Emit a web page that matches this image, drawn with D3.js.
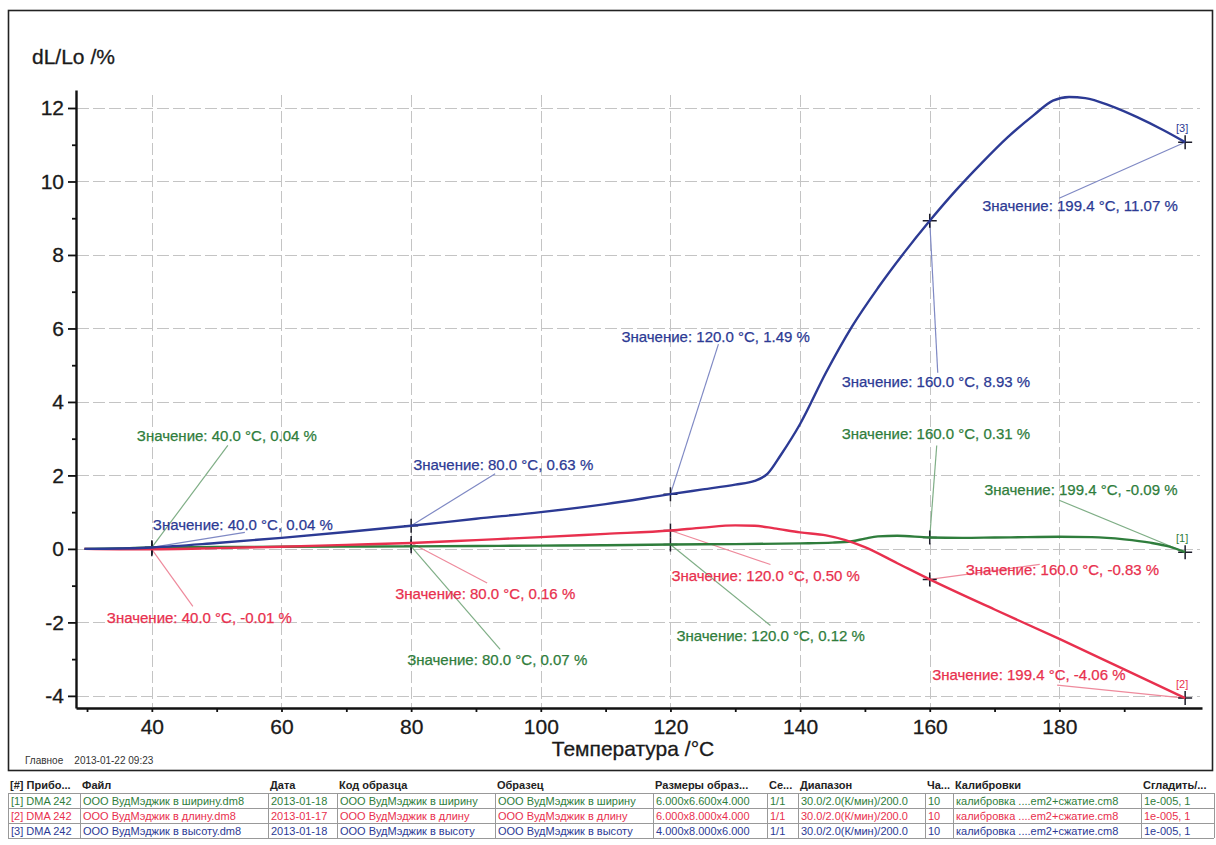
<!DOCTYPE html>
<html>
<head>
<meta charset="utf-8">
<script src="https://cdn.jsdelivr.net/npm/d3@7/dist/d3.min.js"></script>
<style>
  html, body { margin: 0; padding: 0; background: #fff; }
  svg { display: block; font-family: "Liberation Sans", Arial, sans-serif; }
</style>
</head>
<body>
<svg id="chart" width="1216" height="845"></svg>
<script>
// Dilatometer curves dL/Lo vs temperature (three sample orientations)
const seriesNames = ["[1]", "[2]", "[3]"];
const seriesColors = ["#2f7d3c", "#e8304e", "#2c3a94"];
const leaderColors = ["#7fae86", "#ee8a9c", "#7f89c4"];

const greenTemp = [29.6, 35, 40, 50, 60, 70, 80, 90, 100, 110, 120, 130, 140, 145, 148, 150, 152, 155, 160, 165, 170, 175, 180, 185, 190, 194, 197, 199.4];
const greenVal  = [0, 0.01, 0.04, 0.05, 0.06, 0.065, 0.07, 0.08, 0.09, 0.10, 0.12, 0.13, 0.15, 0.17, 0.21, 0.28, 0.34, 0.36, 0.31, 0.30, 0.31, 0.32, 0.33, 0.32, 0.26, 0.17, 0.06, -0.09];

const redTemp = [29.6, 35, 40, 50, 60, 70, 80, 90, 100, 110, 120, 125, 130, 133, 136, 140, 144, 147, 150, 155, 160, 170, 180, 190, 199.4];
const redVal  = [0, -0.01, -0.01, 0.02, 0.06, 0.11, 0.16, 0.24, 0.32, 0.41, 0.50, 0.58, 0.64, 0.63, 0.56, 0.45, 0.37, 0.24, 0.05, -0.39, -0.83, -1.65, -2.45, -3.28, -4.06];

const blueTemp = [29.6, 35, 40, 50, 60, 70, 80, 90, 100, 110, 120, 125, 130, 133, 135, 137, 140, 144, 148, 152, 156, 160, 164, 168, 172, 176, 179, 181.5, 184, 188, 192, 196, 199.4];
const blueVal  = [0, 0.01, 0.04, 0.16, 0.30, 0.46, 0.63, 0.82, 1.00, 1.22, 1.49, 1.62, 1.75, 1.85, 2.05, 2.55, 3.40, 4.80, 6.05, 7.10, 8.05, 8.93, 9.75, 10.50, 11.20, 11.80, 12.20, 12.30, 12.27, 12.05, 11.75, 11.40, 11.07];

// Value readouts: series index, temperature, value
const markSeries = [2, 0, 1, 2, 1, 0, 2, 1, 0, 2, 0, 1, 2, 0, 1];
const markTemp   = [40.0, 40.0, 40.0, 80.0, 80.0, 80.0, 120.0, 120.0, 120.0, 160.0, 160.0, 160.0, 199.4, 199.4, 199.4];
const markVal    = [0.04, 0.04, -0.01, 0.63, 0.16, 0.07, 1.49, 0.50, 0.12, 8.93, 0.31, -0.83, 11.07, -0.09, -4.06];
// Readout text placement (pixel offsets from the marker) and leader end offsets
const labelDx = [1, -15, -45, 2, -16, -4, -49, 1, 6, -88, -88, 36, -203, -201, -253];
const labelDy = [-23, -112, 68, -62, 50, 113, -158, 44, 91, 160, -105, -10, 63, -63, -24];
const leaderDx = [93, 76, 41, 84, 76, 89, 48, 100, 100, 8, 7, 110, -126, -126, -128];
const leaderDy = [-15, -102, 57, -52, 40, 103, -150, 34, 81, 152, -92, -15, 56, -52, -13];

const xTicks = [40, 60, 80, 100, 120, 140, 160, 180];
const xMinor = [30, 50, 70, 90, 110, 130, 150, 170, 190];
const yTicks = [-4, -2, 0, 2, 4, 6, 8, 10, 12];
const yMinor = [-3, -1, 1, 3, 5, 7, 9, 11];

const tableHeaders = ["[#] Прибо...", "Файл", "Дата", "Код образца", "Образец", "Размеры образ...", "Се...", "Диапазон", "Ча...", "Калибровки", "Сгладить/..."];
const tableRow1 = ["[1] DMA 242", "ООО ВудМэджик в ширину.dm8", "2013-01-18", "ООО ВудМэджик в ширину", "ООО ВудМэджик в ширину", "6.000x6.600x4.000", "1/1", "30.0/2.0(К/мин)/200.0", "10", "калибровка ....em2+сжатие.cm8", "1e-005, 1"];
const tableRow2 = ["[2] DMA 242", "ООО ВудМэджик в длину.dm8", "2013-01-17", "ООО ВудМэджик в длину", "ООО ВудМэджик в длину", "6.000x8.000x4.000", "1/1", "30.0/2.0(К/мин)/200.0", "10", "калибровка ....em2+сжатие.cm8", "1e-005, 1"];
const tableRow3 = ["[3] DMA 242", "ООО ВудМэджик в высоту.dm8", "2013-01-18", "ООО ВудМэджик в высоту", "ООО ВудМэджик в высоту", "4.000x8.000x6.000", "1/1", "30.0/2.0(К/мин)/200.0", "10", "калибровка ....em2+сжатие.cm8", "1e-005, 1"];

const svg = d3.select("#chart");

// outer frame
svg.append("rect").attr("x", 8.5).attr("y", 10.5).attr("width", 1204).attr("height", 760)
  .attr("fill", "none").attr("stroke", "#222").attr("stroke-width", 1.6);

const x = d3.scaleLinear().domain([28.3, 202]).range([76, 1202]);
const y = d3.scaleLinear().domain([-4.33, 12.49]).range([708, 90]);

// grid
const grid = svg.append("g").attr("stroke", "#c4c4c4").attr("stroke-width", 1).attr("stroke-dasharray", "12,4");
grid.selectAll(".h").data(yTicks).join("line")
  .attr("x1", 77).attr("x2", 1200).attr("y1", d => Math.round(y(d)) + 0.5).attr("y2", d => Math.round(y(d)) + 0.5);
grid.selectAll(".v").data(xTicks).join("line")
  .attr("y1", 95).attr("y2", 707).attr("x1", d => Math.round(x(d)) + 0.5).attr("x2", d => Math.round(x(d)) + 0.5);

// axes
const fmt = d => String(d);
const yAxis = svg.append("g").attr("transform", "translate(76,0)")
  .call(d3.axisLeft(y).tickValues(yTicks).tickSize(8).tickSizeOuter(0).tickPadding(4).tickFormat(fmt));
svg.append("g").attr("transform", "translate(76,0)")
  .call(d3.axisLeft(y).tickValues(yMinor).tickSize(4).tickSizeOuter(0).tickFormat(""))
  .select(".domain").remove();
const xAxis = svg.append("g").attr("transform", "translate(0,708)")
  .call(d3.axisBottom(x).tickValues(xTicks).tickSize(4).tickSizeOuter(0).tickPadding(7).tickFormat(fmt));
svg.append("g").attr("transform", "translate(0,708)")
  .call(d3.axisBottom(x).tickValues(xMinor).tickSize(4).tickSizeOuter(0).tickFormat(""))
  .select(".domain").remove();

svg.selectAll(".domain").attr("stroke", "#111").attr("stroke-width", 2.4);
svg.selectAll(".tick line").attr("stroke", "#111").attr("stroke-width", 1.8);
svg.selectAll(".tick text").attr("font-size", 21).attr("fill", "#1a1a1a")
  .attr("stroke", "#1a1a1a").attr("stroke-width", 0.3)
  .attr("font-family", "Liberation Sans, Arial, sans-serif");

svg.append("text").attr("x", 32).attr("y", 64).attr("font-size", 21).attr("fill", "#1a1a1a")
  .attr("stroke", "#1a1a1a").attr("stroke-width", 0.3).text("dL/Lo /%");
svg.append("text").attr("x", 633).attr("y", 756).attr("text-anchor", "middle").attr("font-size", 21).attr("fill", "#1a1a1a")
  .attr("stroke", "#1a1a1a").attr("stroke-width", 0.3).text("Температура /°C");
svg.append("text").attr("x", 25).attr("y", 764).attr("font-size", 10).attr("fill", "#333")
  .attr("xml:space", "preserve").text("Главное    2013-01-22 09:23");

// curves
const line = d3.line().x(d => x(d[0])).y(d => y(d[1])).curve(d3.curveMonotoneX);
const seriesData = [
  d3.zip(greenTemp, greenVal),
  d3.zip(redTemp, redVal),
  d3.zip(blueTemp, blueVal)
];

// leaders below curves
const ann = svg.append("g");
markSeries.forEach((s, i) => {
  const px = x(markTemp[i]), py = y(markVal[i]);
  ann.append("line").attr("x1", px).attr("y1", py)
    .attr("x2", px + leaderDx[i]).attr("y2", py + leaderDy[i])
    .attr("stroke", leaderColors[s]).attr("stroke-width", 1.2);
});

svg.append("g").selectAll("path").data(seriesData).join("path")
  .attr("d", line).attr("fill", "none")
  .attr("stroke", (d, i) => seriesColors[i]).attr("stroke-width", 2.4)
  .attr("stroke-linejoin", "round");

// readout markers and text
markSeries.forEach((s, i) => {
  const px = x(markTemp[i]), py = y(markVal[i]);
  ann.append("path").attr("d", `M${px - 7},${py}H${px + 7}M${px},${py - 7}V${py + 7}`)
    .attr("stroke", "#1c1c2a").attr("stroke-width", 1.5);
  ann.append("text").attr("x", px + labelDx[i]).attr("y", py + labelDy[i] + 6)
    .attr("font-size", 15).attr("fill", seriesColors[s])
    .attr("stroke", seriesColors[s]).attr("stroke-width", 0.25)
    .text(`Значение: ${markTemp[i].toFixed(1)} °C, ${markVal[i].toFixed(2)} %`);
});

// series tags at curve ends
seriesData.forEach((d, i) => {
  const last = d[d.length - 1];
  ann.append("text").attr("x", x(last[0]) - 3).attr("y", y(last[1]) - 10)
    .attr("text-anchor", "middle").attr("font-size", 11).attr("fill", seriesColors[i]).text(seriesNames[i]);
});

// measurement table
const colX = [8, 80, 268, 337, 495, 653, 767, 798, 925, 953, 1141, 1214];
const rowY = [776, 793, 808, 823, 838];
const tbl = svg.append("g").attr("font-size", 11);
const rows = [tableRow1, tableRow2, tableRow3];
tbl.selectAll(".hd").data(tableHeaders).join("text")
  .attr("x", (d, i) => colX[i] + 2).attr("y", rowY[0] + 13)
  .attr("font-weight", "bold").attr("fill", "#222").text(d => d);
rows.forEach((r, ri) => {
  tbl.append("g").selectAll("text").data(r).join("text")
    .attr("x", (d, i) => colX[i] + 3).attr("y", rowY[ri + 1] + 11.5)
    .attr("fill", seriesColors[ri]).text(d => d)
    .each(function (d, i) {
      const w = colX[i + 1] - colX[i] - 5;
      if (this.getComputedTextLength() > w) d3.select(this).attr("textLength", w).attr("lengthAdjust", "spacingAndGlyphs");
    });
});
// cell borders
tbl.append("g").selectAll("line").data(rowY.slice(1)).join("line")
  .attr("x1", 8).attr("x2", 1214).attr("y1", d => d + 0.5).attr("y2", d => d + 0.5)
  .attr("stroke", "#999").attr("stroke-width", 1);
tbl.append("g").selectAll("line").data(colX).join("line")
  .attr("x1", d => d + 0.5).attr("x2", d => d + 0.5).attr("y1", rowY[1]).attr("y2", rowY[4])
  .attr("stroke", "#999").attr("stroke-width", 1);
</script>
</body>
</html>
